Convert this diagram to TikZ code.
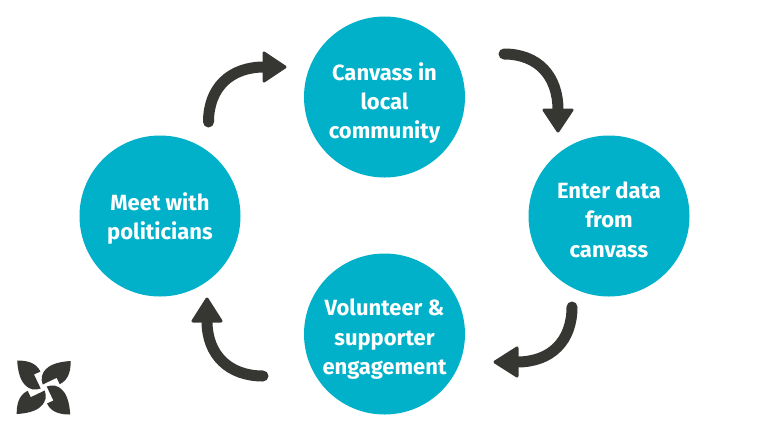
\documentclass[tikz,border=0pt]{standalone}
\usepackage{fontspec}
\setmainfont{Fira Sans}
\usetikzlibrary{arrows.meta}
\definecolor{teal1}{HTML}{00B1C9}
\definecolor{dark1}{HTML}{363632}
\tikzset{
  x=1pt,y=-1pt,
  stage/.style={circle,fill=teal1,draw=none,minimum size=161pt,inner sep=0pt,text=white,align=center,
    font=\fontsize{22}{29.2}\selectfont\bfseries},
  flow/.style={draw=dark1,line width=11pt,line cap=round},
  headtip/.style={fill=dark1,draw=dark1,line width=3pt,line join=round},
  petal/.style={fill=dark1,draw=none}
}
\newcommand{\petalpath}{(27,-26.5) .. controls (27,-19) and (26,-8) .. (16,-3.3) -- (13,-9.7) -- (-1,-3) .. controls (-3,-9) and (-2.5,-14) .. (3,-19) .. controls (8,-24) and (18,-26) .. (27,-26.5) -- cycle}
\begin{document}
\begin{tikzpicture}
\useasboundingbox (0,0) rectangle (768,432);
\fill[white] (0,0) rectangle (768,432);
\node[stage] (canvass) at (384.5,97) {\rule{0pt}{30pt}Canvass in\\local\\community};
\node[stage] (enter) at (609,216) {\rule{0pt}{24pt}Enter data\\from\\canvass};
\node[stage] (volunteer) at (384.5,334) {\rule{0pt}{27pt}Volunteer \&\\supporter\\engagement};
\node[stage] (meet) at (160,216) {\rule{0pt}{23pt}Meet with\\politicians};
\coordinate (a1s) at (208.5,122);
\coordinate (a1e) at (264,67);
\draw[flow] (a1s) .. controls (208.5,88) and (230,67) .. (a1e);
\fill[headtip] (264,53) -- (285,67) -- (264,81) -- cycle;
\coordinate (a2s) at (504,54);
\coordinate (a2e) at (558,110);
\draw[flow] (a2s) .. controls (538,54) and (558,76) .. (a2e);
\fill[headtip] (544,110) -- (558,131) -- (572,110) -- cycle;
\coordinate (a3s) at (572,307);
\coordinate (a3e) at (517,362);
\draw[flow] (a3s) .. controls (572,341) and (551,362) .. (a3e);
\fill[headtip] (517,348) -- (495,362) -- (517,376) -- cycle;
\coordinate (a4s) at (263,376);
\coordinate (a4e) at (207,321);
\draw[flow] (a4s) .. controls (229,376) and (207,355) .. (a4e);
\fill[headtip] (193,321) -- (207,299) -- (221,321) -- cycle;
\begin{scope}[shift={(43.7,387.5)}]
\foreach \a in {0,90,180,270}{
  \fill[petal,rotate=\a] \petalpath;
}
\end{scope}
\end{tikzpicture}
\end{document}
